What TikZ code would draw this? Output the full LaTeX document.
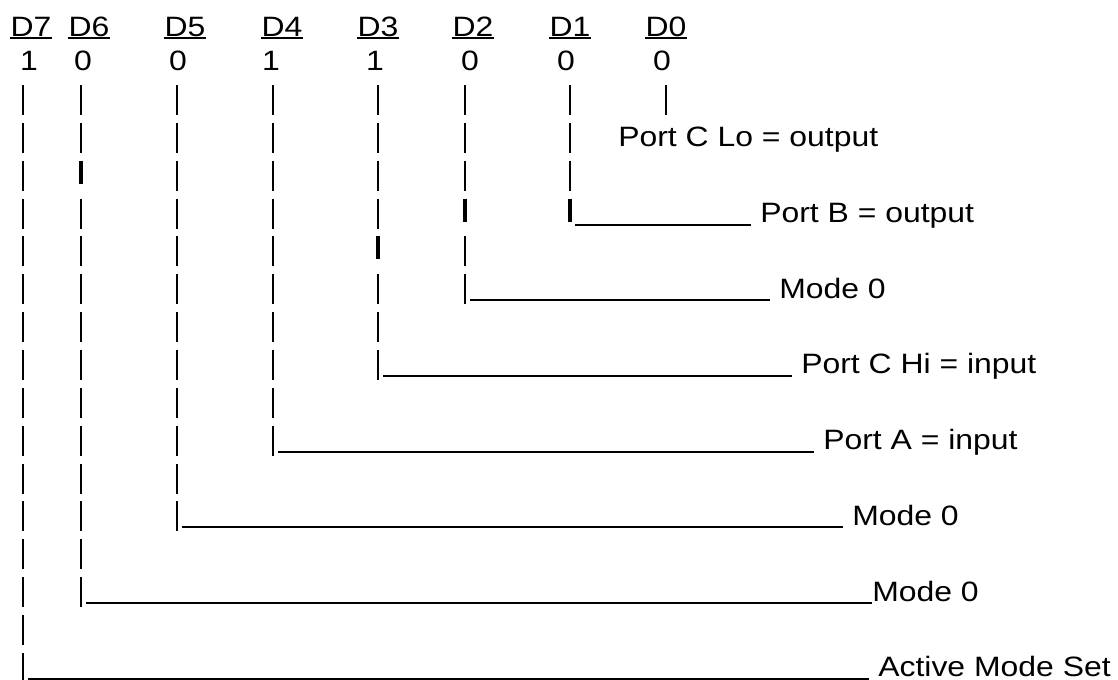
\documentclass[tikz,border=0pt]{standalone}
\usepackage{fontspec}
\setmainfont{Liberation Sans}
\usetikzlibrary{calc}
\tikzset{
  bittext/.style={inner sep=0pt, xscale=1.14, font=\fontsize{21pt}{25pt}\selectfont},
  hdr/.style={bittext, anchor=base},
  bitval/.style={bittext, anchor=base},
  fieldlbl/.style={bittext, anchor=base west},
  hdrline/.style={line width=1.5pt},
  bitbar/.style={line width=1.8pt},
  bitell/.style={line width=2.4pt},
  fieldline/.style={line width=1.5pt, shorten <=3.75pt, shorten >=6.7pt}
}

\begin{document}
\begin{tikzpicture}[x=0.75pt, y=-0.75pt]
  \useasboundingbox (0,0) rectangle (1118,679);
  % bit names and the control word
  \foreach \b/\x/\v/\vx in {7/31/1/29, 6/89/0/83, 5/185/0/178, 4/282/1/271,
                            3/378/1/375, 2/473/0/470, 1/570/0/566, 0/666/0/662}{
    \node[hdr] (d\b) at (\x,36) {D\b};
    \node[bitval] (v\b) at (\vx,70) {\v};
    \draw[hdrline] ([yshift=-1.7pt]d\b.base west) -- ([yshift=-1.7pt]d\b.base east);
  }
  % columns of bars, one per row (\s marks the short one)
  \foreach \x/\n/\s in {23/16/0, 81/14/3, 177/12/0, 273/10/0,
                        378/8/5, 465/6/4, 570/4/4, 666/1/0}{
    \foreach \r in {1,...,\n}{
      \ifnum\r=\s
        \draw[bitell] (\x,{85+(\r-1)*37.85}) -- ++(0,23);
      \else
        \draw[bitbar] (\x,{85+(\r-1)*37.85}) -- ++(0,30);
      \fi
    }
  }
  % field labels
  \node[fieldlbl] (l0) at (618,146.85) {Port C Lo = output};
  \node[fieldlbl] (l1) at (760,222.55) {Port B = output};
  \node[fieldlbl] (l2) at (779,298.25) {Mode 0};
  \node[fieldlbl] (l3) at (801,373.95) {Port C Hi = input};
  \node[fieldlbl] (l4) at (823,449.65) {Port A = input};
  \node[fieldlbl] (l5) at (852,525.35) {Mode 0};
  \node[fieldlbl] (l6) at (872,601.05) {Mode 0};
  \node[fieldlbl] (l7) at (878,676.75) {Active Mode Set};
  % corners where the columns turn right
  \coordinate (k1) at (570,224.55);
  \coordinate (k2) at (465,300.25);
  \coordinate (k3) at (378,375.95);
  \coordinate (k4) at (273,451.65);
  \coordinate (k5) at (177,527.35);
  \coordinate (k6) at (81,603.05);
  \coordinate (k7) at (23,678.75);
  \foreach \i in {1,2,3,4,5,7}
    \draw[fieldline] (k\i) -- (k\i -| l\i.west);
  \draw[fieldline, shorten >=0pt] (k6) -- (k6 -| l6.west);
\end{tikzpicture}
\end{document}
